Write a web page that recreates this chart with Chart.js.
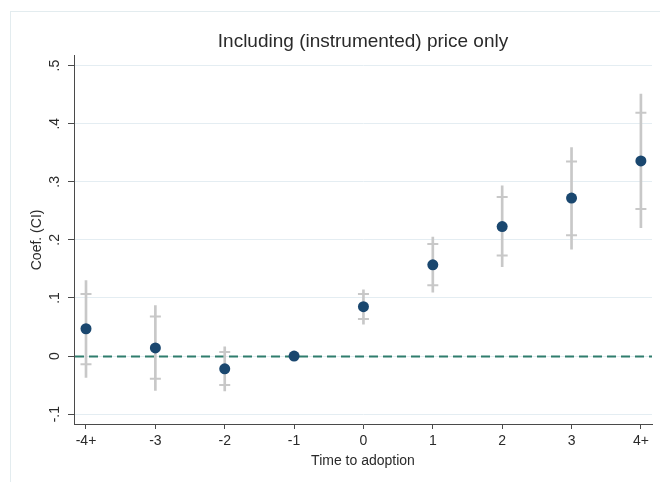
<!DOCTYPE html>
<html>
<head>
<meta charset="utf-8">
<script src="https://cdn.jsdelivr.net/npm/chart.js@4/dist/chart.umd.min.js"></script>
<style>
  html, body { margin: 0; padding: 0; background: #ffffff; }
  #wrap { width: 660px; height: 482px; }
</style>
</head>
<body>
<div id="wrap"><canvas id="c" width="660" height="482"></canvas></div>
<script>
// Event-study coefficients by time to adoption, with 95% (whiskers) and 90% (caps) intervals
const categories = ['-4+', '-3', '-2', '-1', '0', '1', '2', '3', '4+'];
const coef   = [0.047, 0.014, -0.022, 0.000, 0.085, 0.157, 0.223, 0.272, 0.336];
const ci95Lo = [-0.037, -0.059, -0.060, null, 0.055, 0.110, 0.154, 0.184, 0.221];
const ci95Hi = [0.130, 0.087, 0.016, null, 0.114, 0.205, 0.293, 0.359, 0.451];
const ci90Lo = [-0.014, -0.039, -0.050, null, 0.064, 0.122, 0.173, 0.208, 0.253];
const ci90Hi = [0.107, 0.068, 0.007, null, 0.107, 0.193, 0.274, 0.335, 0.419];
const yTickValues = [-0.1, 0, 0.1, 0.2, 0.3, 0.4, 0.5];
const yTickLabels = ['-.1', '0', '.1', '.2', '.3', '.4', '.5'];

const FONT = "'Liberation Sans Narrow', 'Arial Narrow', 'Liberation Sans', Arial, sans-serif";
const TEXT = '#2a2a2a';
const AXIS = '#4a4a4a';
const CI_GREY = '#c8c8c8';
const NAVY = '#1a476f';

const whiskers = [];
const caps = [];
categories.forEach((c, i) => {
  if (ci95Lo[i] !== null) whiskers.push({ x: i, y: [ci95Lo[i], ci95Hi[i]] });
  if (ci90Lo[i] !== null) {
    caps.push({ x: i, y: ci90Lo[i] });
    caps.push({ x: i, y: ci90Hi[i] });
  }
});
const points = categories.map((c, i) => ({ x: i, y: coef[i] }));

// Light border of the graph region
const regionFrame = {
  id: 'regionFrame',
  beforeDraw(chart) {
    const ctx = chart.ctx;
    ctx.save();
    ctx.strokeStyle = '#e3ecef';
    ctx.lineWidth = 1;
    ctx.strokeRect(10.5, 11.5, chart.width + 20, chart.height + 20);
    ctx.restore();
  }
};

// Dashed reference line at zero
const zeroLine = {
  id: 'zeroLine',
  beforeDatasetsDraw(chart) {
    const { ctx, chartArea, scales } = chart;
    const y = Math.round(scales.y.getPixelForValue(0)) + 0.5;
    ctx.save();
    ctx.strokeStyle = '#2f7d6d';
    ctx.lineWidth = 2;
    ctx.setLineDash([9, 5]);
    ctx.beginPath();
    ctx.moveTo(chartArea.left + 1, y);
    ctx.lineTo(chartArea.right, y);
    ctx.stroke();
    ctx.restore();
  }
};

new Chart(document.getElementById('c'), {
  type: 'scatter',
  data: {
    datasets: [
      {
        label: 'Coefficient',
        data: points,
        order: 0,
        pointRadius: 5.5,
        pointHoverRadius: 5.5,
        pointBackgroundColor: NAVY,
        pointBorderWidth: 0,
        showLine: false
      },
      {
        label: '90% CI',
        data: caps,
        order: 1,
        pointStyle: 'line',
        pointRadius: 5.5,
        pointHoverRadius: 5.5,
        pointBorderColor: CI_GREY,
        pointBorderWidth: 2,
        showLine: false
      },
      {
        type: 'bar',
        label: '95% CI',
        data: whiskers,
        order: 2,
        backgroundColor: CI_GREY,
        borderWidth: 0,
        barThickness: 2
      }
    ]
  },
  options: {
    responsive: false,
    animation: false,
    devicePixelRatio: 1,
    layout: { padding: { left: 0, right: 8, top: 0, bottom: 0 } },
    plugins: {
      legend: { display: false },
      tooltip: { enabled: false },
      title: {
        display: true,
        fullSize: false,
        text: 'Including (instrumented) price only',
        color: TEXT,
        font: { family: FONT, size: 19, weight: 'normal' },
        padding: { top: 30, bottom: 3 }
      }
    },
    scales: {
      x: {
        type: 'linear',
        min: -0.173,
        max: 8.16,
        offset: false,
        afterFit(scale) { scale.height = 58; },
        afterBuildTicks(scale) { scale.ticks = categories.map((c, i) => ({ value: i })); },
        ticks: {
          autoSkip: false,
          maxRotation: 0,
          padding: 4,
          color: TEXT,
          font: { family: FONT, size: 14 },
          callback: (v, i) => categories[i]
        },
        grid: { drawOnChartArea: false, drawTicks: true, tickLength: 5, tickColor: AXIS, tickWidth: 1, offset: false },
        border: { display: true, color: AXIS, width: 1 },
        title: {
          display: true,
          text: 'Time to adoption',
          color: TEXT,
          font: { family: FONT, size: 14 },
          padding: { top: 0, bottom: 12 }
        }
      },
      y: {
        type: 'linear',
        min: -0.117,
        max: 0.517,
        afterFit(scale) { scale.width = 74; },
        afterBuildTicks(scale) { scale.ticks = yTickValues.map(v => ({ value: v })); },
        ticks: {
          autoSkip: false,
          minRotation: 90,
          maxRotation: 90,
          crossAlign: 'center',
          padding: 5,
          color: TEXT,
          font: { family: FONT, size: 14 },
          callback: (v, i) => yTickLabels[i]
        },
        grid: { color: '#e4edf2', lineWidth: 1, drawTicks: true, tickLength: 6, tickColor: AXIS, tickWidth: 1 },
        border: { display: true, color: AXIS, width: 1 },
        title: {
          display: true,
          text: 'Coef. (CI)',
          color: TEXT,
          font: { family: FONT, size: 14 },
          padding: { top: 29, bottom: 0 }
        }
      }
    }
  },
  plugins: [regionFrame, zeroLine]
});
</script>
</body>
</html>
